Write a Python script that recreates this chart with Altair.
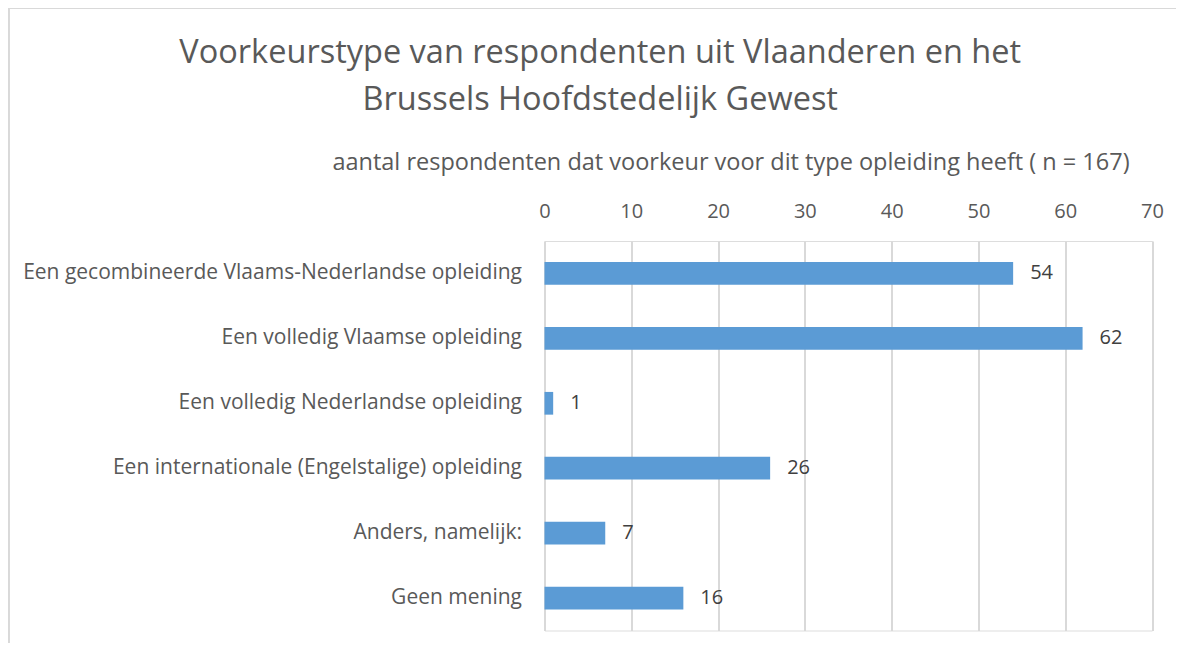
import altair as alt
import pandas as pd

categories = [
    "Een gecombineerde Vlaams-Nederlandse opleiding",
    "Een volledig Vlaamse opleiding",
    "Een volledig Nederlandse opleiding",
    "Een internationale (Engelstalige) opleiding",
    "Anders, namelijk:",
    "Geen mening",
]
values = [54, 62, 1, 26, 7, 16]
tick_values = [0, 10, 20, 30, 40, 50, 60, 70]

df = pd.DataFrame({"cat": categories, "val": values})

FONT = "Open Sans"
TXT = "#595959"

x_enc = alt.X(
    "val:Q",
    scale=alt.Scale(domain=[0, 70], nice=False),
    axis=alt.Axis(
        orient="top",
        values=tick_values,
        title="aantal respondenten dat voorkeur voor dit type opleiding heeft ( n = 167)",
        titleFontSize=23.5,
        titleFont=FONT,
        titleFontWeight="normal",
        titleColor=TXT,
        titleX=186,
        titleY=-67,
        titleAlign="center",
        titleAnchor="start",
        labelFontSize=20,
        labelFont=FONT,
        labelColor=TXT,
        labelPadding=20,
        labelFlush=False,
        domain=False,
        ticks=False,
        grid=True,
        gridColor="#d9d9d9",
        gridWidth=2,
    ),
)
y_enc = alt.Y(
    "cat:N",
    sort=categories,
    scale=alt.Scale(paddingInner=0.65, paddingOuter=0.325),
    axis=alt.Axis(
        title=None,
        labelFontSize=21,
        labelFont=FONT,
        labelColor=TXT,
        labelPadding=23,
        labelLimit=700,
        domain=False,
        ticks=False,
        grid=False,
    ),
)

base = alt.Chart(df).encode(x=x_enc, y=y_enc)
bars = base.mark_bar(color="#5B9BD5")
labels = base.mark_text(
    align="left", baseline="middle", dx=17, fontSize=20, font=FONT, color="#404040"
).encode(text="val:Q")

frame_top = alt.Chart(df).mark_rule(color="#d9d9d9", strokeWidth=2, clip=False).encode(
    x=alt.value(-537), x2=alt.value(640), y=alt.value(-233)
)
frame_left = alt.Chart(df).mark_rule(color="#d9d9d9", strokeWidth=2, clip=False).encode(
    x=alt.value(-536), y=alt.value(-234), y2=alt.value(410)
)

chart = (
    alt.layer(frame_top, frame_left, bars, labels)
    .properties(
        width=607.5,
        height=389.5,
        autosize=alt.AutoSizeParams(type="none"),
        padding={"left": 536.5, "top": 233, "right": 24, "bottom": 12},
        title=alt.TitleParams(
            text=[
                "Voorkeurstype van respondenten uit Vlaanderen en het",
                "Brussels Hoofdstedelijk Gewest",
            ],
            font=FONT,
            fontSize=32.5,
            fontWeight="normal",
            color=TXT,
            lineHeight=47,
            anchor="middle",
            frame="group",
            dx=-248,
            dy=130,
            offset=20,
        ),
    )
    .configure_view(stroke="transparent", strokeWidth=0)
    .configure(background="white")
)

chart.save("out.html", embed_options={"renderer": "svg", "actions": False})
